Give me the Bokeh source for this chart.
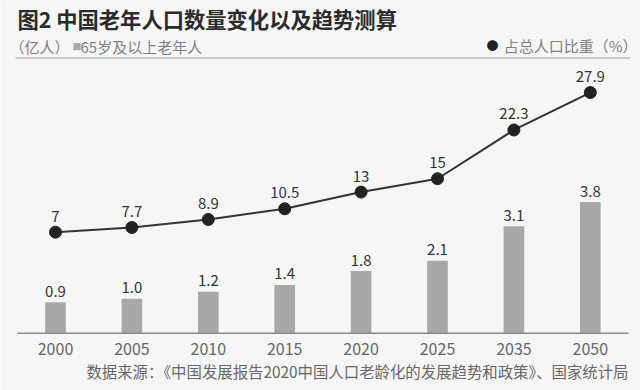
from bokeh.plotting import figure
from bokeh.models import Range1d, Label, ColumnDataSource, BoxAnnotation
from bokeh.core.properties import value
from bokeh.embed import file_html
from bokeh.resources import INLINE

# ---- data ----
years = ["2000", "2005", "2010", "2015", "2020", "2025", "2035", "2050"]
elderly = [0.9, 1.0, 1.2, 1.4, 1.8, 2.1, 3.1, 3.8]          # 亿人
share = [7, 7.7, 8.9, 10.5, 13, 15, 22.3, 27.9]              # %
elderly_labels = ["0.9", "1.0", "1.2", "1.4", "1.8", "2.1", "3.1", "3.8"]
share_labels = ["7", "7.7", "8.9", "10.5", "13", "15", "22.3", "27.9"]

title_text = "图2 中国老年人口数量变化以及趋势测算"
unit_text = "（亿人）"
bar_legend = "65岁及以上老年人"
line_legend = "占总人口比重（%）"
source_text = "数据来源：《中国发展报告2020中国人口老龄化的发展趋势和政策》、国家统计局"

W, H = 640, 390
FONT = "Noto Sans CJK SC"
BG = "#f6f6f6"

idx = list(range(len(years)))
src = ColumnDataSource(dict(x=idx, years=years, elderly=elderly, share=share,
                            el=elderly_labels, sl=share_labels,
                            zero=[0] * len(years)))

p = figure(width=W, height=H, output_backend="svg", toolbar_location=None,
           x_range=Range1d(-0.7199, 7.657), y_range=Range1d(-1.661, 9.643),
           x_axis_location=None, y_axis_location=None,
           min_border=0, min_border_left=0, min_border_right=0,
           min_border_top=0, min_border_bottom=0)
p.extra_y_ranges = {"pct": Range1d(-16.70, 41.68)}
p.grid.visible = False
p.outline_line_color = None
p.background_fill_color = BG
p.border_fill_color = BG

# bars
p.vbar(x="x", top="elderly", bottom=0, width=0.27, source=src,
       fill_color="#a8a8a8", line_color=None)

# baseline
n = len(years)
p.segment(x0=[-0.5], y0=[0], x1=[n - 0.5], y1=[0], line_color="#8a8a8a", line_width=1.5)

# line + markers
p.line(x="x", y="share", source=src, y_range_name="pct", line_color="#333333", line_width=2)
p.scatter(x="x", y="share", source=src, y_range_name="pct", size=12,
          fill_color="#222222", line_color="#222222")

# value labels
p.text(x="x", y="elderly", text="el", source=src, text_align="center",
       text_baseline="middle", y_offset=-11, text_font=value(FONT),
       text_font_size="15px", text_color="#333333")
p.text(x="x", y="share", text="sl", source=src, y_range_name="pct", text_align="center",
       text_baseline="middle", y_offset=-16, text_font=value(FONT),
       text_font_size="15px", text_color="#333333")

# x tick labels
p.text(x="x", y="zero", text="years", source=src, text_align="center",
       text_baseline="middle", y_offset=16, text_font=value(FONT),
       text_font_size="16px", text_color="#666666")

def lab(x, ytop, text, size, color, align="left", style="normal"):
    p.add_layout(Label(x=x, y=H - ytop, x_units="screen", y_units="screen", text=text,
                       text_font=FONT, text_font_size=size, text_color=color,
                       text_align=align, text_baseline="middle", text_font_style=style))

lab(17, 18, title_text, "21.3px", "#2b2b2b", style="bold")
lab(9, 46, unit_text, "15px", "#808080")
lab(72, 46, "■", "9px", "#a9a9a9")
lab(80, 46, bar_legend, "15px", "#808080")
lab(492, 45, "●", "12px", "#222222", align="center")
lab(637, 45, line_legend, "15px", "#808080", align="right")
lab(628, 370, source_text, "15.4px", "#666666", align="right")

# rule under legend
p.add_layout(BoxAnnotation(left=15, right=630, top=H - 56.8, bottom=H - 58.3,
                           left_units="screen", right_units="screen",
                           top_units="screen", bottom_units="screen",
                           fill_color="#bbbbbb", fill_alpha=1, line_color=None))

open("out.html", "w").write(file_html(p, INLINE))
